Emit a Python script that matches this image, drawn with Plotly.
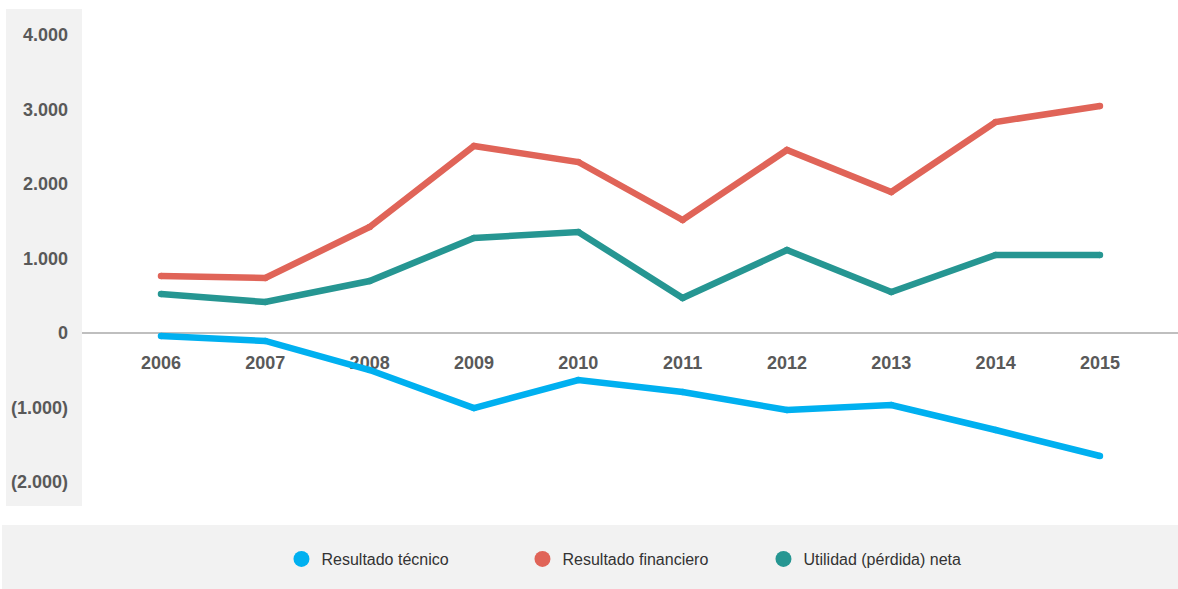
import plotly.graph_objects as go

years = [2006, 2007, 2008, 2009, 2010, 2011, 2012, 2013, 2014, 2015]
resultado_tecnico = [-40, -107, -497, -1007, -631, -792, -1034, -966, -1302, -1651]
resultado_financiero = [765, 738, 1423, 2510, 2295, 1517, 2456, 1893, 2832, 3047]
utilidad_neta = [523, 416, 698, 1275, 1356, 470, 1114, 550, 1047, 1047]

series_names = ["Resultado técnico", "Resultado financiero", "Utilidad (pérdida) neta"]
series_values = [resultado_tecnico, resultado_financiero, utilidad_neta]
series_colors = ["#00B0F0", "#E06458", "#269692"]

y_tickvals = [-2000, -1000, 0, 1000, 2000, 3000, 4000]
y_ticktext = ["(2.000)", "(1.000)", "0", "1.000", "2.000", "3.000", "4.000"]

Y_MIN, Y_MAX = -2322, 4349

fig = go.Figure()
for name, vals, col in zip(series_names, series_values, series_colors):
    fig.add_trace(go.Scatter(
        x=years, y=vals, mode="lines+markers", name=name,
        line=dict(color=col, width=6.5),
        marker=dict(color=col, size=6.5),
        showlegend=False, hoverinfo="x+y+name",
    ))
for name, col in zip(series_names, series_colors):
    fig.add_trace(go.Scatter(
        x=[None], y=[None], mode="markers", name=name,
        marker=dict(color=col, size=20, symbol="circle"),
        showlegend=True,
    ))

font_family = "Liberation Sans, Arial, sans-serif"

fig.update_layout(
    width=1178, height=589,
    margin=dict(l=82, r=0, t=9, b=83),
    paper_bgcolor="white", plot_bgcolor="white",
    font=dict(family=font_family, color="#595959"),
    xaxis=dict(
        range=[2005.243, 2015.748],
        tickvals=years, ticktext=[str(y) for y in years],
        anchor="free", position=(0 - Y_MIN) / (Y_MAX - Y_MIN),
        showgrid=False, zeroline=False, showline=False,
        ticks="", ticklabelstandoff=17,
        tickfont=dict(size=18, color="#595959", family=font_family, weight="bold"),
        layer="below traces",
    ),
    yaxis=dict(
        range=[Y_MIN, Y_MAX],
        tickvals=y_tickvals, ticktext=y_ticktext,
        showgrid=False, zeroline=True, zerolinecolor="#BFBFBF", zerolinewidth=1.5,
        showline=False, ticks="", ticklabelstandoff=13,
        tickfont=dict(size=18, color="#595959", family=font_family, weight="bold"),
    ),
    legend=dict(
        orientation="h", x=0.182, xanchor="left", y=-0.1066, yanchor="middle",
        bgcolor="rgba(0,0,0,0)",
        font=dict(size=16, color="#333333", family=font_family),
        entrywidth=196, entrywidthmode="pixels",
        itemsizing="trace",
    ),
    shapes=[
        dict(type="rect", xref="paper", yref="paper",
             x0=(6 - 82) / 1096, x1=0, y0=0, y1=1,
             fillcolor="#F2F2F2", line=dict(width=0), layer="below"),
        dict(type="rect", xref="paper", yref="paper",
             x0=(2 - 82) / 1096, x1=1, y0=(506 - 589) / 497, y1=(506 - 525) / 497,
             fillcolor="#F2F2F2", line=dict(width=0), layer="below"),
    ],
)

fig.write_html("out.html", config={"displayModeBar": False},
               post_script="document.body.style.margin='0';")
